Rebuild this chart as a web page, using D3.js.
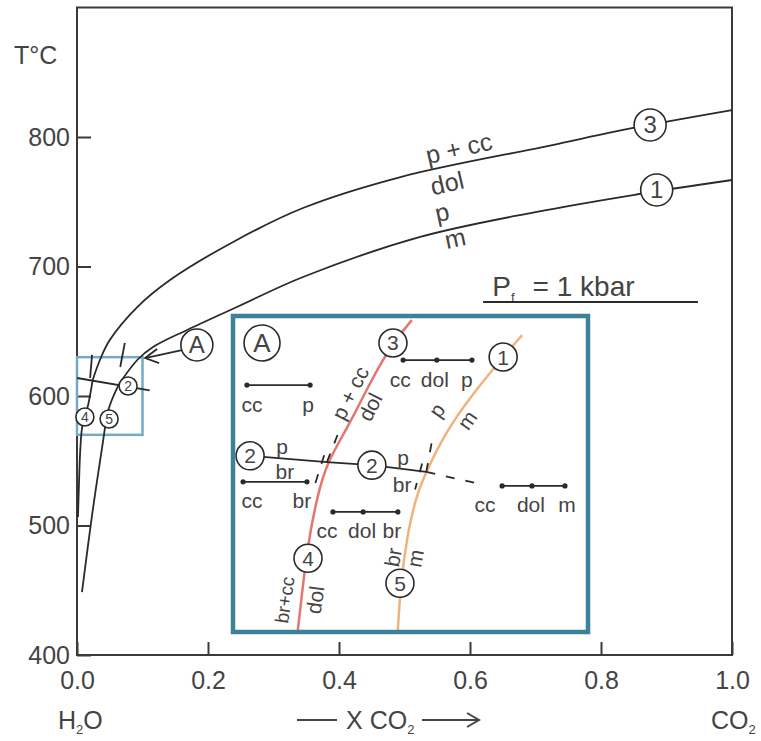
<!DOCTYPE html>
<html>
<head>
<meta charset="utf-8">
<script src="https://cdn.jsdelivr.net/npm/d3@7"></script>
<style>
  body { margin: 0; background: #fff; }
  text { font-family: "Liberation Sans", Arial, sans-serif; fill: #444; }
</style>
</head>
<body>
<div id="plotDiv"></div>
<script>
// --- Data (X CO2, T °C) ---
const xTicks = [0.0, 0.2, 0.4, 0.6, 0.8, 1.0];
const yTicks = [400, 500, 600, 700, 800];

// main diagram curves
const curve3 = [[0.024,612.4],[0.035,627.8],[0.050,643.2],[0.092,668.7],[0.142,689.6],[0.244,720.5],
                [0.345,745.2],[0.494,769.1],[0.722,793.4],[0.849,807.0],[1.0,820.8]];
const curve4 = [[0.024,612.4],[0.017,593.1],[0.008,576.1],[0.005,558.3],[0.003,532.0],[0.0015,506.6]];
const curve1 = [[0.064,609.0],[0.092,627.8],[0.116,637.8],[0.168,651.0],[0.244,668.7],[0.345,691.9],
                [0.524,722.8],[0.700,742.0],[0.849,755.2],[1.0,766.8]];
const curve5 = [[0.064,609.0],[0.055,599.2],[0.047,587.6],[0.040,566.0],[0.023,508.1],[0.0076,448.6]];
const curve2 = [[0.0,613.9],[0.111,604.4]];
const ext4 = [[0.020,613.9],[0.023,631.7]];
const ext5 = [[0.066,622.4],[0.073,641.0]];

// inset A (blow-up of X 0-0.1, T 570-630)
const insetDomainX = [0, 0.1];
const insetDomainT = [570, 630];
const in3 = [[0.0504,629.6],[0.0450,625.2],[0.0393,618.7],[0.0322,609.0],[0.0262,602.3]];
const in4 = [[0.0262,602.3],[0.0234,595.6],[0.0208,586.7],[0.0191,577.1],[0.0179,570.0]];
const in1 = [[0.0818,626.7],[0.0764,622.5],[0.0670,614.8],[0.0601,608.1],[0.0547,600.8]];
const in5 = [[0.0547,600.8],[0.0515,595.6],[0.0490,587.9],[0.0472,579.0],[0.0464,570.0]];
const in2 = [[0.0043,603.5],[0.0262,602.3],[0.0390,601.7],[0.0545,600.4]];
const in2dash = [[0.0545,600.4],[0.0684,598.3]];
const in4dash = [[0.0262,602.3],[0.0302,609.2]];
const in5dash = [[0.0545,600.4],[0.0563,607.0]];
const in3dash = [[0.0254,603.6],[0.0225,597.4]];
const in1dash = [[0.0533,602.0],[0.0513,597.0]];

// tie-line triangles (compatibility diagrams)
const tieX = [[0.0034,0.0214],[0.0479,0.0575,0.0675],[0.0023,0.0205],[0.0279,0.0365,0.0464],[0.0761,0.0846,0.0940]];
const tieT = [617.1, 621.9, 598.5, 592.7, 597.7];
const tieLabels = [["cc","p"],["cc","dol","p"],["cc","br"],["cc","dol","br"],["cc","dol","m"]];

// --- Setup ---
const width = 761, height = 741;
const svg = d3.select("#plotDiv").append("svg")
  .attr("width", width).attr("height", height);

const x = d3.scaleLinear().domain([0, 1]).range([77, 732]);
const y = d3.scaleLinear().domain([400, 900]).range([655, 7.5]);

const line = d3.line().x(d => x(d[0])).y(d => y(d[1])).curve(d3.curveCatmullRom.alpha(0.5));
const ink = "#2a2a2a";

// frame
svg.append("rect")
  .attr("x", x(0)).attr("y", y(900))
  .attr("width", x(1) - x(0)).attr("height", y(400) - y(900))
  .attr("fill", "none").attr("stroke", "#3a3a3a").attr("stroke-width", 2);

// axes
const xAxis = svg.append("g").attr("transform", `translate(0,${y(400)})`)
  .call(d3.axisBottom(x).tickValues(xTicks).tickSize(-13).tickPadding(16).tickFormat(d3.format(".1f")));
const yAxis = svg.append("g").attr("transform", `translate(${x(0)},0)`)
  .call(d3.axisLeft(y).tickValues(yTicks).tickSize(-14).tickPadding(7));
[xAxis, yAxis].forEach(a => {
  a.select(".domain").remove();
  a.selectAll("line").attr("stroke", "#3a3a3a").attr("stroke-width", 2);
  a.selectAll("text").attr("font-size", 25).attr("fill", "#444")
    .style("font-family", '"Liberation Sans", Arial, sans-serif');
});

// axis titles
svg.append("text").attr("x", 14).attr("y", 64).attr("font-size", 25).text("T°C");
const h2o = svg.append("text").attr("x", 58).attr("y", 729).attr("font-size", 25);
h2o.append("tspan").text("H");
h2o.append("tspan").attr("font-size", 13).attr("dy", 5).text("2");
h2o.append("tspan").attr("dy", -5).text("O");
const co2 = svg.append("text").attr("x", 711).attr("y", 729).attr("font-size", 25);
co2.append("tspan").text("CO");
co2.append("tspan").attr("font-size", 13).attr("dy", 5).text("2");
const xl = svg.append("text").attr("x", 346).attr("y", 729).attr("font-size", 25);
xl.append("tspan").text("X ");
xl.append("tspan").text("CO");
xl.append("tspan").attr("font-size", 13).attr("dy", 5).text("2");
svg.append("path").attr("d", "M297,720 H337 M422,720 H478 M467,713 L479,720 L467,727")
  .attr("fill", "none").attr("stroke", "#444").attr("stroke-width", 2);

// small box around A region
svg.append("rect")
  .attr("x", x(0)).attr("y", y(630))
  .attr("width", x(0.1) - x(0)).attr("height", y(570) - y(630))
  .attr("fill", "none").attr("stroke", "#74aac6").attr("stroke-width", 2.5);

// --- Main curves ---
[curve3, curve4, curve1, curve5].forEach(c => {
  svg.append("path").datum(c).attr("d", line)
    .attr("fill", "none").attr("stroke", ink).attr("stroke-width", 1.8);
});
[curve2, ext4, ext5].forEach(c => {
  svg.append("path").datum(c).attr("d", d3.line().x(d => x(d[0])).y(d => y(d[1])))
    .attr("fill", "none").attr("stroke", ink).attr("stroke-width", 1.8);
});

function circled(g, cx, cy, r, txt, fs) {
  g.append("circle").attr("cx", cx).attr("cy", cy).attr("r", r)
    .attr("fill", "#fff").attr("stroke", ink).attr("stroke-width", 1.6);
  g.append("text").attr("x", cx).attr("y", cy).attr("text-anchor", "middle")
    .attr("dominant-baseline", "central").attr("font-size", fs).text(txt);
}
function label(g, px, py, txt, fs, rot) {
  g.append("text").attr("transform", `translate(${px},${py}) rotate(${rot || 0})`)
    .attr("text-anchor", "middle").attr("dominant-baseline", "central")
    .attr("font-size", fs).text(txt);
}

circled(svg, x(0.875), y(809.3), 16, "3", 24);
circled(svg, x(0.885), y(759.1), 16, "1", 24);
circled(svg, x(0.078), y(607.7), 9, "2", 14);
circled(svg, x(0.012), y(583.8), 9, "4", 14);
circled(svg, x(0.049), y(582.2), 9, "5", 14);

label(svg, x(0.583), y(791.5), "p + cc", 25, -13);
label(svg, x(0.565), y(764.5), "dol", 25, -13);
label(svg, x(0.557), y(742.1), "p", 25, -12);
label(svg, x(0.577), y(722.0), "m", 25, -12);

// A callout with arrow to the small box
circled(svg, x(0.183), y(639.4), 16, "A", 24);
svg.append("path")
  .attr("d", `M${x(0.160)},${y(635.5)} L${x(0.104)},${y(629.3)}`)
  .attr("fill", "none").attr("stroke", ink).attr("stroke-width", 1.8);
svg.append("path")
  .attr("d", `M${x(0.104)+12},${y(629.3)-9} L${x(0.104)},${y(629.3)} L${x(0.104)+14},${y(629.3)+5}`)
  .attr("fill", "none").attr("stroke", ink).attr("stroke-width", 1.8);

// Pf label
const pf = svg.append("text").attr("x", x(0.634)).attr("y", y(677)).attr("font-size", 28);
pf.append("tspan").text("P");
pf.append("tspan").attr("font-size", 13).attr("dy", 6).text("f");
pf.append("tspan").attr("dy", -6).attr("dx", 18).text("= 1 kbar");
svg.append("line").attr("x1", x(0.62)).attr("x2", x(0.948)).attr("y1", y(672.6)).attr("y2", y(672.6))
  .attr("stroke", ink).attr("stroke-width", 1.8);

// --- Inset A ---
const xIn = d3.scaleLinear().domain(insetDomainX).range([235, 586]);
const yIn = d3.scaleLinear().domain(insetDomainT).range([630, 318]);
const lineIn = d3.line().x(d => xIn(d[0])).y(d => yIn(d[1])).curve(d3.curveBasis);
const straightIn = d3.line().x(d => xIn(d[0])).y(d => yIn(d[1]));

const inset = svg.append("g");
inset.append("rect").attr("x", 233).attr("y", 316).attr("width", 355).attr("height", 316)
  .attr("fill", "#fff");
inset.append("clipPath").attr("id", "inclip").append("rect")
  .attr("x", 235).attr("y", 318).attr("width", 351).attr("height", 312);
const ig = inset.append("g").attr("clip-path", "url(#inclip)");

ig.append("path").datum(in3.concat(in4.slice(1))).attr("d", lineIn)
  .attr("fill", "none").attr("stroke", "#e3776f").attr("stroke-width", 2.5);
ig.append("path").datum(in1.concat(in5.slice(1))).attr("d", lineIn)
  .attr("fill", "none").attr("stroke", "#f2b27c").attr("stroke-width", 2.5);
ig.append("path").datum(in2).attr("d", straightIn)
  .attr("fill", "none").attr("stroke", ink).attr("stroke-width", 1.8);
[in2dash, in4dash, in5dash, in3dash, in1dash].forEach(c => {
  ig.append("path").datum(c).attr("d", straightIn)
    .attr("fill", "none").attr("stroke", ink).attr("stroke-width", 1.8)
    .attr("stroke-dasharray", "9,11");
});

// tie lines (label nudges are layout only)
const tieLabelDx = [[5, -2], [-3, -2, -5], [9, -5], [-6, -1, -6], [-17, -1, 2]];
tieX.forEach((xs, i) => {
  const ty = yIn(tieT[i]);
  ig.append("line").attr("x1", xIn(xs[0])).attr("x2", xIn(xs[xs.length - 1]))
    .attr("y1", ty).attr("y2", ty).attr("stroke", ink).attr("stroke-width", 1.8);
  xs.forEach((v, j) => {
    ig.append("circle").attr("cx", xIn(v)).attr("cy", ty).attr("r", 2.6).attr("fill", ink);
    label(ig, xIn(v) + tieLabelDx[i][j], ty + 19, tieLabels[i][j], 21, 0);
  });
});

// inset annotations
label(ig, xIn(0.0134), yIn(605.2), "p", 21, 0);
label(ig, xIn(0.0142), yIn(600.4), "br", 21, 0);
label(ig, xIn(0.0479), yIn(603.1), "p", 21, 0);
label(ig, xIn(0.0476), yIn(597.9), "br", 21, 0);
label(ig, xIn(0.0328), yIn(615.6), "p + cc", 21, -63);
label(ig, xIn(0.0385), yIn(612.9), "dol", 21, -63);
label(ig, xIn(0.0575), yIn(612.3), "p", 21, -55);
label(ig, xIn(0.0661), yIn(610.4), "m", 21, -55);
label(ig, xIn(0.0142), yIn(575.8), "br+cc", 19, -82);
label(ig, xIn(0.0228), yIn(575.8), "dol", 21, -82);
label(ig, xIn(0.0450), yIn(584.0), "br", 21, -80);
label(ig, xIn(0.0513), yIn(583.8), "m", 21, -80);

circled(ig, xIn(0.0450), yIn(625.2), 14, "3", 21);
circled(ig, xIn(0.0764), yIn(622.5), 14, "1", 21);
circled(ig, xIn(0.0043), yIn(603.5), 14, "2", 21);
circled(ig, xIn(0.0390), yIn(601.7), 14, "2", 21);
circled(ig, xIn(0.0208), yIn(583.8), 14, "4", 21);
circled(ig, xIn(0.0470), yIn(579.0), 14, "5", 21);
circled(ig, xIn(0.0077), yIn(625.2), 18, "A", 26);

inset.append("rect").attr("x", 233).attr("y", 316).attr("width", 355).attr("height", 316)
  .attr("fill", "none").attr("stroke", "#3a8199").attr("stroke-width", 4.5);
</script>
</body>
</html>
